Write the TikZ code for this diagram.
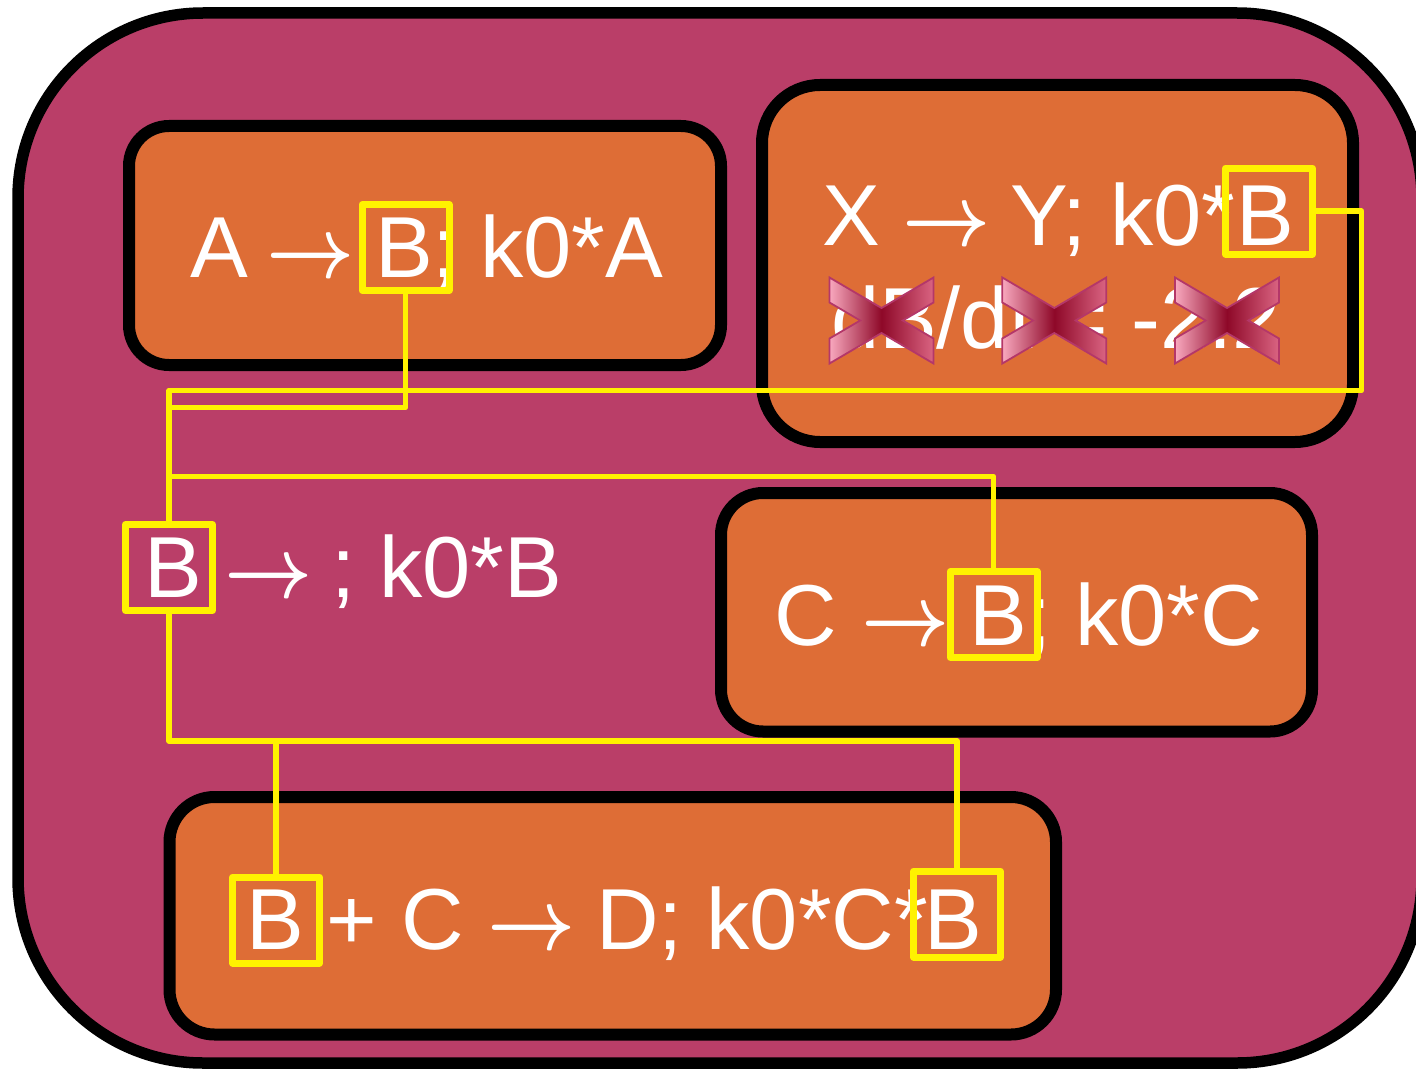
\RequirePackage{fix-cm}
\documentclass[tikz,border=0pt]{standalone}
\usepackage{fontspec}
\setmainfont{Liberation Sans}
\definecolor{pinkbg}{RGB}{186,62,104}
\definecolor{orangebox}{RGB}{222,109,54}
\definecolor{xl}{RGB}{248,168,190}
\definecolor{xm}{RGB}{142,8,40}
\definecolor{xr}{RGB}{218,100,130}
\definecolor{xo}{RGB}{180,55,105}
\newcommand{\rarr}{\scalebox{0.885}[1]{\boldmath$\rightarrow$}}
\begin{document}
\begin{tikzpicture}[x=1pt,y=-1pt,
  bigbox/.style={draw=black, line width=11.5pt, fill=pinkbg, rounded corners=185pt, inner sep=0, rectangle},
  rbox/.style={draw=black, line width=12pt, fill=orangebox, inner sep=0, rectangle},
  ybox/.style={draw=yellow, line width=7pt, minimum width=87pt, minimum height=86pt, inner sep=0, rectangle, line join=round},
  conn/.style={draw=yellow, line width=5.5pt, line join=round},
  txt/.style={text=white, inner sep=0, outer sep=0, anchor=base west, font=\fontsize{86.6pt}{104pt}\selectfont},
  redx/.pic={\path[left color=xl, right color=xr, middle color=xm, draw=xo, line width=1.8pt]
     (-52,-43) -- (0,-12.5) -- (52,-43) -- (52,-18) -- (21.3,0) -- (52,18) -- (52,43) -- (0,12.5)
     -- (-52,43) -- (-52,18) -- (-21.3,0) -- (-52,-18) -- cycle;}
]
\useasboundingbox (0,0) rectangle (1416,1070);

% containers
\node[bigbox, minimum width=1404pt, minimum height=1050pt] (outer) at (720,538) {};
\node[rbox, minimum width=592pt, minimum height=239pt, rounded corners=40pt] (bx1) at (425,245.5) {};
\node[rbox, minimum width=591pt, minimum height=357pt, rounded corners=58pt] (bx2) at (1057.5,263.5) {};
\node[rbox, minimum width=591pt, minimum height=238.5pt, rounded corners=42pt] (bx3) at (1016.5,612.25) {};
\node[rbox, minimum width=886.5pt, minimum height=237.5pt, rounded corners=45pt] (bx4) at (612.75,915.75) {};

% texts: box 1
\node[txt] (t1a) at (190,277) {A};
\node[txt] (t1b) at (266,277) {\rarr};
\node[txt] (t1c) at (375,277) {B};
\node[txt] (t1d) at (432,277) {; k0*A};
% box 2
\node[txt] (t2a) at (822,245) {X};
\node[txt] (t2b) at (902,245) {\rarr};
\node[txt] (t2c) at (1010,245) {Y; k0*};
\node[txt] (t2d) at (1236,245) {B};
\node[txt] (t2e) at (831,348) {dB/dt = -2.2};
% hub line
\node[txt] (t3a) at (144,597) {B};
\node[txt] (t3b) at (224,597) {\rarr};
\node[txt] (t3c) at (331,597) {; k0*B};
% box 3
\node[txt] (t4a) at (774,645) {C};
\node[txt] (t4b) at (861,645) {\rarr};
\node[txt] (t4c) at (969,645) {B};
\node[txt] (t4d) at (1027,645) {; k0*C};
% box 4
\node[txt] (t5a) at (246.6,949) {B};
\node[txt] (t5b) at (326.7,949) {+ C};
\node[txt] (t5c) at (487,949) {\rarr};
\node[txt] (t5d) at (596,949) {D; k0*C*};
\node[txt] (t5e) at (924,949) {B};

% crosses
\pic at (881.5,320.5) {redx};
\pic at (1054.3,320.5) {redx};
\pic at (1227,320.5) {redx};

% yellow boxes
\node[ybox] (yb1) at (405.5,247.5) {};
\node[ybox] (yb2) at (1269,211) {};
\node[ybox] (hub) at (169,567.5) {};
\node[ybox] (yb3) at (993.7,614.5) {};
\node[ybox] (yb4l) at (276,920) {};
\node[ybox] (yb4r) at (957,914) {};

% connectors
\coordinate (j1) at (169,407.5);
\coordinate (c2) at (1361.5,390.5);
\coordinate (c3) at (169,390.5);
\coordinate (c4) at (169,476.5);
\coordinate (c5) at (957,741);
\coordinate (c6) at (276,741);
\draw[conn] (yb1.south) |- (j1);
\draw[conn] (yb2.east) -| (c2) -- (c3) -- (hub.north);
\draw[conn] (c4) -| (yb3.north);
\draw[conn] (hub.south) |- (c5) -- (yb4r.north);
\draw[conn] (c6) -- (yb4l.north);
\end{tikzpicture}
\end{document}
